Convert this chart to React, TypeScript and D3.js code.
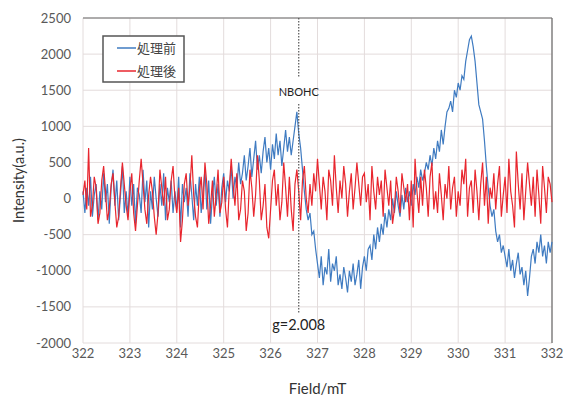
import React from "react";
import * as d3 from "d3";

// field values run 322 -> 332 mT in 0.04 steps (251 points)
const fieldStart = 322;
const fieldStep = 0.04;

const beforeValues = [
  100, -200, 150, -100, 300, -250, 50, 200, -300, 100, -150, 350, -50, 200, -350, 150, 400, -100, 250, -300, 50, 450, -200, 100, -250,
  300, -100, 200, -350, 150, 50, -200, 400, -50, 250, -400, 100, -150, 300, 0, -250, 200, -100, 350, -300, 150, -50, 250, -200, 100,
  -150, 300, -400, 200, -50, 150, -250, 350, 50, -300, 200, -100, 300, -200, 100, 400, -150, 250, -350, 50, 300, -100, 200, -250, 150,
  350, -50, 250, 100, 450, 0, 300, 150, 500, 200, 350, 600, 250, 450, 700, 300, 550, 800, 400, 600, 350, 650, 850, 500, 700,
  400, 750, 550, 900, 600, 800, 450, 700, 950, 650, 850, 600, 800, 1000, 1200, 900, 700, 400, 100, -150, -300, -200, -500, -450, -700,
  -900, -1100, -800, -1200, -950, -1050, -700, -1150, -900, -1000, -800, -1200, -1050, -1250, -950, -1100, -1300, -1000, -1150, -900, -1200, -1050, -850, -1250, -950,
  -800, -1000, -700, -650, -850, -500, -700, -400, -600, -350, -500, -200, -400, -150, -300, 0, -200, 100, -100, -250, 50, -150, 150, -50, 100,
  -100, 200, 50, 300, 150, 400, 250, 350, 500, 400, 600, 450, 700, 550, 800, 650, 950, 750, 1000, 1200, 1250, 1350, 1200, 1500, 1400,
  1600, 1500, 1700, 1650, 1900, 2050, 2200, 2250, 2100, 1900, 1600, 1300, 1200, 1100, 800, 450, 150, -100, -250, -150, -450, -600, -500, -750, -650,
  -800, -950, -700, -1000, -850, -1100, -900, -750, -1050, -950, -1200, -1000, -1350, -1100, -800, -700, -900, -600, -750, -500, -800, -650, -900, -600, -750,
  -600,
];

const afterValues = [
  50, 250, -150, 700, -250, -100, 300, 150, -350, -200, 250, 450, 100, -300, -150, 200, 350, -50, -400, -250, 150, 500, 200, -100, -300,
  100, 350, -200, -450, -100, 250, 550, 200, -150, -350, 50, 300, 100, -250, -500, -200, 400, 150, -100, 300, -300, -150, 250, 450, 0,
  -200, 150, -600, -300, 200, 350, -100, 150, 600, 50, -250, -400, 100, 300, -150, 500, 200, -350, -100, 250, -250, 50, 400, -200, -50,
  300, -150, -400, 150, 550, 200, -100, 350, -300, -150, 250, 100, -450, -200, 400, 150, -250, 50, 600, 250, -300, -100, 200, -400, -550,
  -150, 250, 400, -100, 200, -300, -50, 500, 150, -250, 300, -150, -450, 200, 400, 100, -300, 250, 450, 0, -200, 200, -100, 350, 100,
  550, 200, -150, 300, 100, -300, 400, 250, -100, 600, 150, -200, 250, 0, 450, 200, -250, 100, 350, -150, 150, 500, 200, -100, 300,
  350, -50, 200, -300, 450, 100, -150, 300, 50, 250, -250, 400, 150, -100, 250, -350, -150, 300, 100, -200, 350, 150, -50, 200, -300,
  250, -400, 550, 100, -200, 300, -100, 400, 150, -250, 300, 500, -150, 100, -200, 350, 50, -300, 200, 0, 450, -150, 150, 300, -250,
  100, -100, 400, 200, 550, -250, 150, 250, -200, 400, 100, -300, 200, 500, -100, 300, -350, 150, 0, 350, -150, 200, 450, -250, 50,
  300, -200, 550, 100, -100, -400, 650, 200, -150, 350, -300, 100, 500, 200, -100, 300, -250, 400, 50, -350, 450, 150, -200, 300, 200,
  -50,
];

const xTicks = [322, 323, 324, 325, 326, 327, 328, 329, 330, 331, 332];
const yTicks = [-2000, -1500, -1000, -500, 0, 500, 1000, 1500, 2000, 2500];
const seriesNames = ["処理前", "処理後"];
const markerField = 326.6;

const W = 563;
const H = 401;
const m = { left: 83, right: 11, top: 18, bottom: 58 };

export default function App() {
  const x = d3.scaleLinear().domain([322, 332]).range([m.left, W - m.right]);
  const y = d3.scaleLinear().domain([-2000, 2500]).range([H - m.bottom, m.top]);

  const line = d3
    .line<number>()
    .x((_, i) => x(fieldStart + i * fieldStep))
    .y(d => y(d));

  const font = "Lato, 'Noto Sans', sans-serif";
  const mx = x(markerField);

  return (
    <svg width={W} height={H} style={{ position: "absolute", left: 0, top: 0, background: "#fff" }}>
      {/* grid */}
      {xTicks.map(t => (
        <line key={"gx" + t} x1={x(t)} x2={x(t)} y1={y(2500)} y2={y(-2000)} stroke="#e3dcdc" strokeWidth={1} />
      ))}
      {yTicks.map(t => (
        <line key={"gy" + t} x1={x(322)} x2={x(332)} y1={y(t)} y2={y(t)} stroke="#e3dcdc" strokeWidth={1} />
      ))}
      <line x1={x(322)} x2={x(332)} y1={y(2500)} y2={y(2500)} stroke="#6b6b6b" strokeWidth={1.2} />
      <line x1={x(332)} x2={x(332)} y1={y(2500)} y2={y(-2000)} stroke="#6b6b6b" strokeWidth={1.2} />

      {/* series */}
      <path d={line(beforeValues) || ""} fill="none" stroke="#3f7bc1" strokeWidth={1.2} />
      <path d={line(afterValues) || ""} fill="none" stroke="#e8262e" strokeWidth={1.2} />

      {/* marker line */}
      <line x1={mx} x2={mx} y1={y(2500)} y2={78} stroke="#555" strokeWidth={1.2} strokeDasharray="1.5,1.5" />
      <line x1={mx} x2={mx} y1={104} y2={313} stroke="#555" strokeWidth={1.2} strokeDasharray="1.5,1.5" />
      <text x={mx} y={96} textAnchor="middle" fontFamily={font} fontSize={11} fill="#222">NBOHC</text>
      <text x={mx} y={330} textAnchor="middle" fontFamily={font} fontSize={14.5} fill="#222">g=2.008</text>

      {/* axes labels */}
      {xTicks.map(t => (
        <text key={"tx" + t} x={x(t)} y={358} textAnchor="middle" fontFamily={font} fontSize={13} fill="#595959">{t}</text>
      ))}
      {yTicks.map(t => (
        <text key={"ty" + t} x={71} y={y(t) + 4.5} textAnchor="end" fontFamily={font} fontSize={13} fill="#595959">{t}</text>
      ))}
      <text x={x(327)} y={394} textAnchor="middle" fontFamily={font} fontSize={15} fill="#333">Field/mT</text>
      <text transform={`translate(24,${y(250)}) rotate(-90)`} textAnchor="middle" fontFamily={font} fontSize={14.5} fill="#333">Intensity(a.u.)</text>

      {/* legend */}
      <rect x={103} y={36} width={81} height={46} fill="#fff" stroke="#555" strokeWidth={1.5} />
      {seriesNames.map((n, i) => (
        <g key={n}>
          <line x1={117} x2={136} y1={48 + i * 23} y2={48 + i * 23} stroke={i === 0 ? "#3f7bc1" : "#e8262e"} strokeWidth={1.5} />
          <text x={137} y={53 + i * 23} fontFamily="'Noto Sans CJK JP', sans-serif" fontSize={13} fill="#444">{n}</text>
        </g>
      ))}
    </svg>
  );
}
